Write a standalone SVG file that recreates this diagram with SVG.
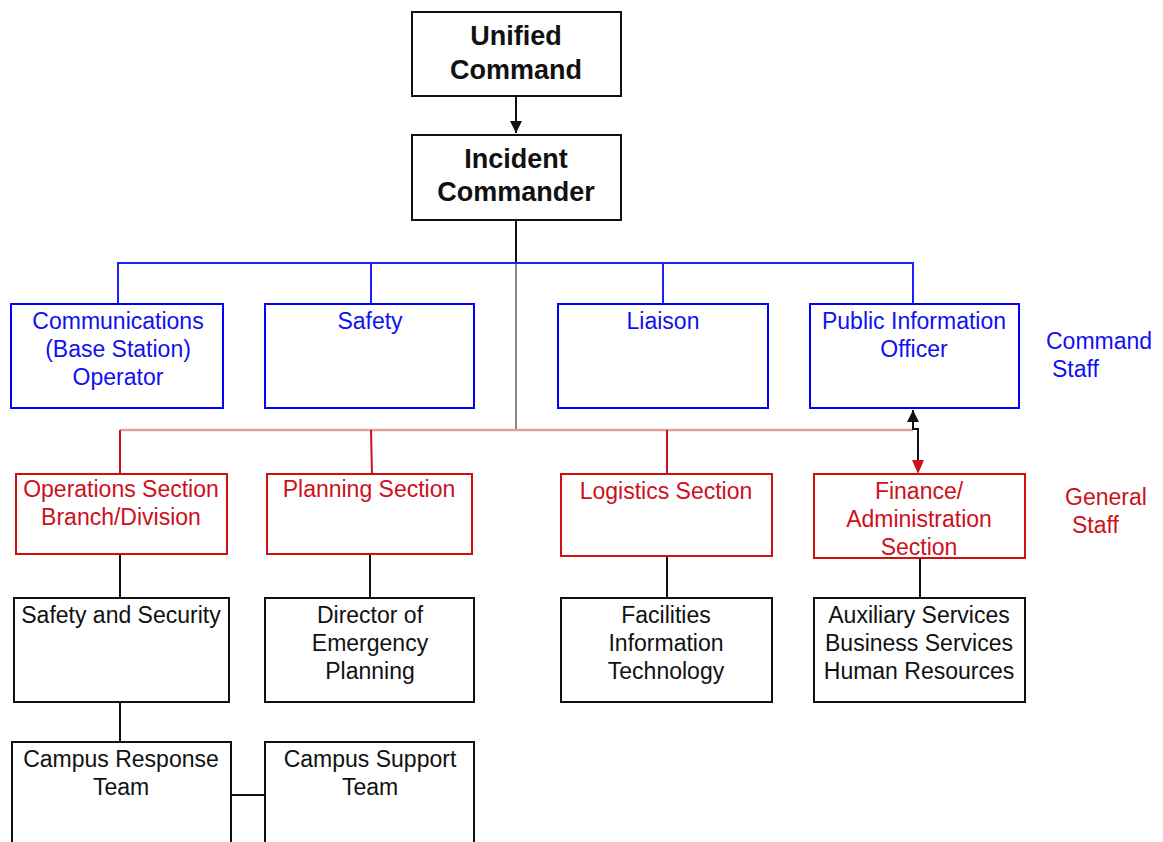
<svg xmlns="http://www.w3.org/2000/svg" width="1163" height="842" viewBox="0 0 1163 842">
<defs>
<style>
text{font-family:"Liberation Sans",Arial,sans-serif;font-size:23px;text-anchor:middle}
.title{font-weight:bold;font-size:27px;fill:#111}
.b rect{fill:#fff;stroke:#0000ff;stroke-width:2}
.b text{fill:#1010f0}
.r rect{fill:#fff;stroke:#d01010;stroke-width:2}
.r text{fill:#cc1020}
.k rect{fill:#fff;stroke:#111;stroke-width:2}
.k text{fill:#111}
.lbl{text-anchor:start}
.cb{stroke:#2020ff;stroke-width:2;fill:none}
.cr{stroke:#cc1020;stroke-width:2;fill:none}
.ck{stroke:#111;stroke-width:2;fill:none}
</style>
<marker id="ak" viewBox="0 0 10 10" refX="10" refY="5" markerWidth="6" markerHeight="6" orient="auto-start-reverse" markerUnits="strokeWidth"><path d="M0,0 L10,5 L0,10 z" fill="#111"/></marker>
</defs>
<rect width="1163" height="842" fill="#fff"/>
<g id="connectors">
<path class="ck" d="M516,96 V133" marker-end="url(#ak)"/>
<path class="ck" d="M516,220 V263"/>
<path d="M516,263 V430" stroke="#888" stroke-width="2"/>
<path class="cb" d="M118,304 V263 H913 V304" stroke="#5a5aff"/>
<path class="cb" d="M371,263 V304 M663,263 V304"/>
<path d="M120,430 H913" stroke="#e0a0a0" stroke-width="2.5" fill="none"/>
<path class="cr" d="M120,430 V474 M371,430 L372,474 M667,430 V474"/>
<path class="ck" d="M913,410 V429 H918 V462" marker-start="url(#ak)"/>
<path d="M912,460 L924,460 L918,474 z" fill="#cc1020"/>
<path class="ck" d="M120,554 V598 M370,554 V598 M667,556 V598 M920,558 V598 M120,702 V742 M231,795 H265"/>
</g>
<g id="n-unified" class="k"><rect x="412" y="12" width="209" height="84"/><text class="title" x="516" y="45">Unified</text><text class="title" x="516" y="79">Command</text></g>
<g id="n-ic" class="k"><rect x="412" y="135" width="209" height="85"/><text class="title" x="516" y="168">Incident</text><text class="title" x="516" y="201">Commander</text></g>
<g id="n-comm" class="b"><rect x="11" y="304" width="212" height="104"/><text x="118" y="329">Communications</text><text x="118" y="357">(Base Station)</text><text x="118" y="385">Operator</text></g>
<g id="n-safety" class="b"><rect x="265" y="304" width="209" height="104"/><text x="370" y="329">Safety</text></g>
<g id="n-liaison" class="b"><rect x="558" y="304" width="210" height="104"/><text x="663" y="329">Liaison</text></g>
<g id="n-pio" class="b"><rect x="810" y="304" width="209" height="104"/><text x="914" y="329">Public Information</text><text x="914" y="357">Officer</text></g>
<g id="lbl-command" class="b"><text class="lbl" x="1046" y="349">Command</text><text class="lbl" x="1052" y="377">Staff</text></g>
<g id="n-ops" class="r"><rect x="16" y="474" width="211" height="80"/><text x="121" y="497">Operations Section</text><text x="121" y="525">Branch/Division</text></g>
<g id="n-plan" class="r"><rect x="267" y="474" width="205" height="80"/><text x="369" y="497">Planning Section</text></g>
<g id="n-log" class="r"><rect x="561" y="474" width="211" height="82"/><text x="666" y="499">Logistics Section</text></g>
<g id="n-fin" class="r"><rect x="814" y="474" width="211" height="84"/><text x="919" y="499">Finance/</text><text x="919" y="527">Administration</text><text x="919" y="555">Section</text></g>
<g id="lbl-general" class="r"><text class="lbl" x="1065" y="505">General</text><text class="lbl" x="1072" y="533">Staff</text></g>
<g id="n-ss" class="k"><rect x="14" y="598" width="215" height="104"/><text x="121" y="623">Safety and Security</text></g>
<g id="n-dir" class="k"><rect x="265" y="598" width="209" height="104"/><text x="370" y="623">Director of</text><text x="370" y="651">Emergency</text><text x="370" y="679">Planning</text></g>
<g id="n-fac" class="k"><rect x="561" y="598" width="211" height="104"/><text x="666" y="623">Facilities</text><text x="666" y="651">Information</text><text x="666" y="679">Technology</text></g>
<g id="n-aux" class="k"><rect x="814" y="598" width="211" height="104"/><text x="919" y="623">Auxiliary Services</text><text x="919" y="651">Business Services</text><text x="919" y="679">Human Resources</text></g>
<g id="n-crt" class="k"><rect x="12" y="742" width="219" height="120"/><text x="121" y="767">Campus Response</text><text x="121" y="795">Team</text></g>
<g id="n-cst" class="k"><rect x="265" y="742" width="209" height="120"/><text x="370" y="767">Campus Support</text><text x="370" y="795">Team</text></g>
</svg>
